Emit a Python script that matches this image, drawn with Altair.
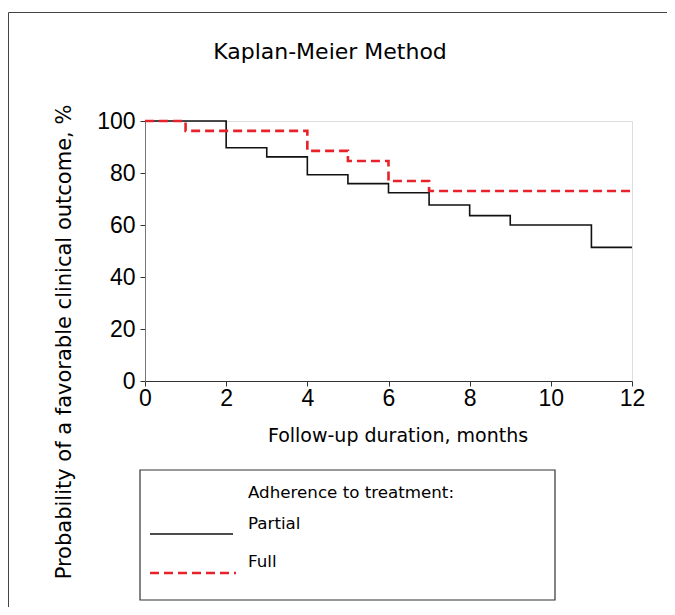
import altair as alt
import pandas as pd

# Kaplan-Meier curves (step-after), % favorable outcome
partial_t = [0, 2, 3, 4, 5, 6, 7, 8, 9, 11, 12]
partial_v = [100, 89.7, 86.2, 79.3, 75.9, 72.4, 67.7, 63.6, 60.0, 51.4, 51.4]
full_t = [0, 1, 4, 5, 6, 7, 12]
full_v = [100, 96.2, 88.5, 84.6, 76.9, 73.1, 73.1]

x_ticks = [0, 2, 4, 6, 8, 10, 12]
y_ticks = [0, 20, 40, 60, 80, 100]

title_text = "Kaplan-Meier Method"
x_title = "Follow-up duration, months"
y_title = "Probability of a favorable clinical outcome, %"
legend_title = "Adherence to treatment:"
legend_labels = ["Partial", "Full"]

W, H = 487, 260
TF = "DejaVu Sans"

df = pd.concat([
    pd.DataFrame({"t": partial_t, "v": partial_v, "g": "Partial"}),
    pd.DataFrame({"t": full_t, "v": full_v, "g": "Full"}),
])

xs = alt.Scale(domain=[0, 12], nice=False, zero=False)
ys = alt.Scale(domain=[0, 100], nice=False)

x_axis = alt.Axis(values=x_ticks, title=None, labelFont="Liberation Sans", labelFontSize=23,
                  labelColor="black", domainColor="#333", tickColor="#333", tickSize=5,
                  labelPadding=1, grid=False, domainWidth=1.2, labelFlush=False)
y_axis = alt.Axis(values=y_ticks, title=None, labelFont="Liberation Sans", labelFontSize=23,
                  labelColor="black", domainColor="#777", tickColor="#333", tickSize=5,
                  labelPadding=5, grid=False, labelBaseline="middle", labelFlush=False)

base = alt.Chart(df)

partial_line = base.transform_filter(alt.datum.g == "Partial").mark_line(
    interpolate="step-after", color="#111", strokeWidth=1.6
).encode(x=alt.X("t:Q", scale=xs, axis=x_axis), y=alt.Y("v:Q", scale=ys, axis=y_axis))

full_line = base.transform_filter(alt.datum.g == "Full").mark_line(
    interpolate="step-after", color="#e8222a", strokeWidth=2.6, strokeDash=[9, 5]
).encode(x=alt.X("t:Q", scale=xs), y=alt.Y("v:Q", scale=ys))

one = pd.DataFrame({"a": [0]})
def txt(text, x, y, size, **kw):
    return alt.Chart(one).mark_text(text=text, font=TF, fontSize=size, color="black", **kw).encode(
        x=alt.value(x), y=alt.value(y))

title = txt(title_text, 185, -69, 22, align="center", baseline="middle")
xt = txt(x_title, 253, 315, 19, align="center", baseline="middle")
yt = txt(y_title, -80, 221, 21, align="center", baseline="middle", angle=270)

# outer frame: top and left edges only
frame_top = alt.Chart(one).mark_rule(color="#444", strokeWidth=1).encode(
    x=alt.value(-136.5), x2=alt.value(530), y=alt.value(-108.5))
frame_left = alt.Chart(one).mark_rule(color="#444", strokeWidth=1).encode(
    x=alt.value(-136.5), y=alt.value(-108.5), y2=alt.value(490))

# legend box
lbox = alt.Chart(one).mark_rect(fill="white", stroke="#333", strokeWidth=1.2).encode(
    x=alt.value(140 - 145), x2=alt.value(555 - 145), y=alt.value(470 - 121), y2=alt.value(600 - 121))
ltitle = txt(legend_title, 248 - 145, 493 - 121, 16.7, align="left", baseline="middle")
lp = txt(legend_labels[0], 248 - 145, 524 - 121, 16.7, align="left", baseline="middle")
lf = txt(legend_labels[1], 248 - 145, 562 - 121, 16.7, align="left", baseline="middle")
lline1 = alt.Chart(one).mark_rule(color="#111", strokeWidth=1.6).encode(
    x=alt.value(150 - 145), x2=alt.value(233 - 145), y=alt.value(534 - 121))
lline2 = alt.Chart(one).mark_rule(color="#e8222a", strokeWidth=2.6, strokeDash=[9, 5]).encode(
    x=alt.value(150 - 145), x2=alt.value(236 - 145), y=alt.value(573 - 121))

chart = alt.layer(
    frame_top, frame_left, partial_line, full_line, title, xt, yt,
    lbox, ltitle, lp, lf, lline1, lline2
).properties(
    width=W, height=H,
    autosize=alt.AutoSizeParams(type="none"),
    padding={"left": 137, "top": 113, "right": 35, "bottom": 226},
).configure_view(stroke="#888", strokeWidth=1.2).configure(background="white")

chart.save("out.html", embed_options={"renderer": "svg", "actions": False})
